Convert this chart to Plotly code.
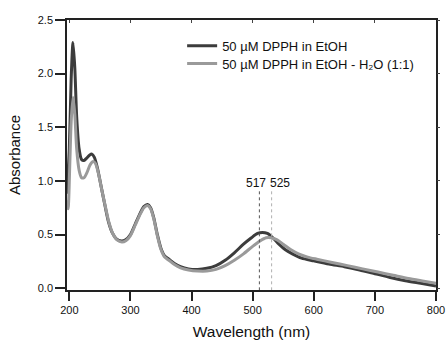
import plotly.graph_objects as go

# Dark series: 50 uM DPPH in EtOH
wl_etoh = [196, 200, 203, 206, 209, 212, 216, 220, 224, 228, 233, 237, 241, 246, 252, 258,
           264, 270, 277, 285, 292, 300, 308, 316, 322, 328, 333, 338, 344, 350, 356, 363,
           372, 382, 395, 410, 425, 440, 455, 470, 485, 498, 508, 516, 524, 533, 543, 553,
           565, 580, 600, 625, 650, 675, 700, 725, 750, 775, 800]
abs_etoh = [0.88, 1.30, 1.95, 2.29, 2.05, 1.60, 1.30, 1.20, 1.19, 1.21, 1.24, 1.25, 1.22, 1.12, 0.95, 0.78,
            0.62, 0.52, 0.46, 0.44, 0.45, 0.50, 0.60, 0.70, 0.76, 0.78, 0.75, 0.66, 0.50, 0.37, 0.30, 0.27,
            0.23, 0.20, 0.18, 0.175, 0.185, 0.21, 0.26, 0.33, 0.41, 0.47, 0.51, 0.52, 0.51, 0.47, 0.41, 0.36,
            0.32, 0.28, 0.255, 0.225, 0.20, 0.17, 0.135, 0.10, 0.07, 0.045, 0.02]

# Light series: 50 uM DPPH in EtOH - H2O (1:1)
wl_mix = [196, 198, 201, 203, 206, 209, 212, 216, 220, 224, 229, 234, 239, 243, 248, 253,
          259, 265, 271, 278, 286, 293, 300, 308, 316, 322, 328, 333, 338, 344, 350, 356,
          363, 372, 382, 395, 410, 425, 440, 455, 470, 485, 500, 512, 522, 530, 540, 550,
          562, 575, 590, 605, 630, 655, 680, 705, 730, 755, 780, 800]
abs_mix = [0.82, 0.74, 1.20, 1.55, 1.78, 1.62, 1.30, 1.10, 1.03, 1.03, 1.08, 1.15, 1.18, 1.16, 1.06, 0.92,
           0.76, 0.61, 0.51, 0.45, 0.43, 0.445, 0.49, 0.59, 0.69, 0.75, 0.77, 0.74, 0.65, 0.49, 0.36, 0.29,
           0.26, 0.22, 0.19, 0.17, 0.16, 0.16, 0.175, 0.21, 0.26, 0.32, 0.39, 0.44, 0.47, 0.47, 0.45, 0.41,
           0.36, 0.32, 0.29, 0.27, 0.24, 0.21, 0.18, 0.15, 0.12, 0.09, 0.065, 0.045]

series_names = ["50 µM DPPH in EtOH", "50 µM DPPH in EtOH - H₂O (1:1)"]
series_colors = ["#3c3c3c", "#9a9a9a"]

# Peak marker lines and labels
peak_line_x = [511, 531]
peak_line_top = 0.92
peak_labels = ["517", "525"]
peak_label_x = [506, 545]
peak_label_y = 0.985
peak_line_colors = ["#555555", "#b0b0b0"]

x_ticks = [200, 300, 400, 500, 600, 700, 800]
y_ticks = [0.0, 0.5, 1.0, 1.5, 2.0, 2.5]
y_tick_text = ["0.0", "0.5", "1.0", "1.5", "2.0", "2.5"]

X_RANGE = [196.2, 800]
Y_RANGE = [-0.017, 2.5]

FONT = "Liberation Sans, Arial, sans-serif"

fig = go.Figure()
for wl, ab, nm, col, lg in [(wl_etoh, abs_etoh, series_names[0], series_colors[0], "legend"),
                            (wl_mix, abs_mix, series_names[1], series_colors[1], "legend2")]:
    fig.add_trace(go.Scatter(x=wl, y=ab, mode="lines", name=nm, legend=lg,
                             line=dict(color=col, width=3, shape="spline", smoothing=0.7)))

for px, pc in zip(peak_line_x, peak_line_colors):
    fig.add_trace(go.Scatter(x=[px, px], y=[-0.02, peak_line_top], mode="lines", showlegend=False,
                             line=dict(color=pc, width=1, dash="dot"), hoverinfo="skip"))

# invisible trace to activate the mirror-tick axes
fig.add_trace(go.Scatter(x=[X_RANGE[0]], y=[Y_RANGE[0]], xaxis="x2", yaxis="y2", mode="markers",
                         marker=dict(opacity=0), showlegend=False, hoverinfo="skip"))

for lx, lt in zip(peak_label_x, peak_labels):
    fig.add_annotation(x=lx, y=peak_label_y, text=lt, showarrow=False, xanchor="center",
                       yanchor="middle", font=dict(size=12, color="#111", family=FONT))

legend_common = dict(xanchor="left", yanchor="top", bgcolor="rgba(0,0,0,0)",
                     font=dict(size=13, family=FONT, color="#111"), tracegroupgap=0, itemwidth=30)

fig.update_layout(
    width=446, height=340,
    margin=dict(l=67, r=10, t=20, b=50, autoexpand=False),
    paper_bgcolor="white", plot_bgcolor="white",
    font=dict(family=FONT, color="#111"),
    showlegend=True,
    legend=dict(x=0.312, y=0.96, **legend_common),
    legend2=dict(x=0.312, y=0.894, **legend_common),
    xaxis=dict(range=X_RANGE, tickvals=x_ticks, ticks="outside", ticklen=9, tickwidth=1.5,
               tickcolor="#222", showline=True, linecolor="#222", linewidth=1.5, mirror=True,
               showgrid=False, zeroline=False, tickfont=dict(size=11, family=FONT),
               title=dict(text="Wavelength (nm)", font=dict(size=15.5, family=FONT), standoff=11)),
    yaxis=dict(range=Y_RANGE, tickvals=y_ticks, ticktext=y_tick_text, ticks="outside",
               ticklen=10, tickwidth=1.5, tickcolor="#222", showline=True, linecolor="#222",
               linewidth=1.5, mirror=True, showgrid=False, zeroline=False,
               tickfont=dict(size=11, family=FONT),
               title=dict(text="Absorbance", font=dict(size=15, family=FONT), standoff=14)),
    xaxis2=dict(range=X_RANGE, overlaying="x", side="top", anchor="y2", tickvals=x_ticks,
                ticks="inside", ticklen=3, tickwidth=1, tickcolor="#444", showticklabels=False,
                showline=False, showgrid=False, zeroline=False),
    yaxis2=dict(range=Y_RANGE, overlaying="y", side="right", anchor="x2", tickvals=y_ticks,
                ticks="outside", ticklen=3, tickwidth=1, tickcolor="#444", showticklabels=False,
                showline=False, showgrid=False, zeroline=False),
)

fig.write_html("out.html")
